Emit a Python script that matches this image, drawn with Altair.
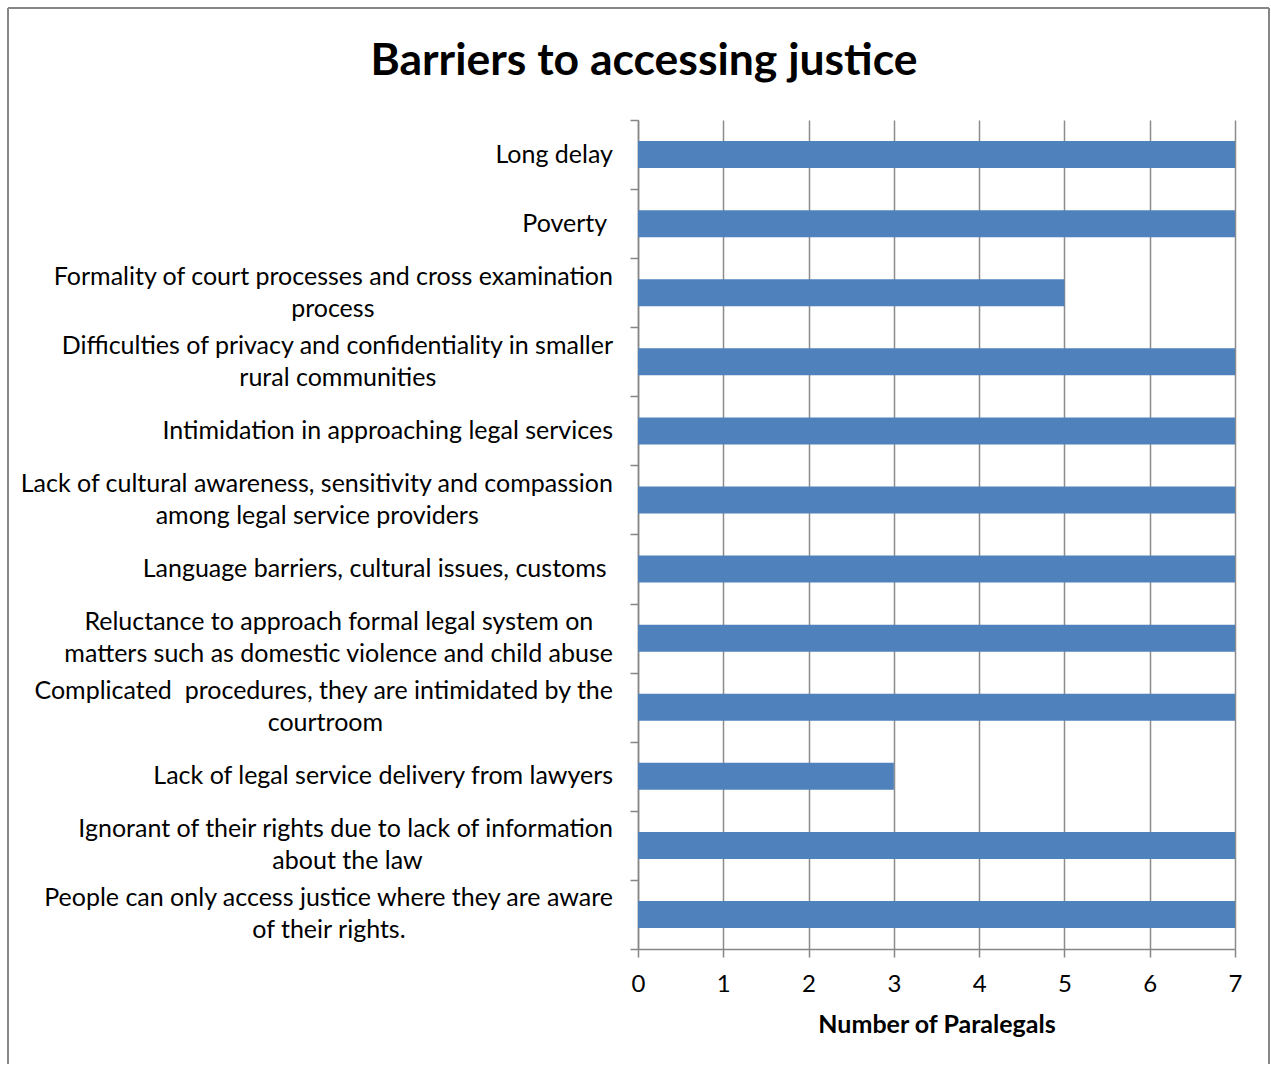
import altair as alt
import pandas as pd

title_text = "Barriers to accessing justice"
x_title = "Number of Paralegals"
categories = [
    "Long delay",
    "Poverty ",
    "Formality of court processes and cross examination\nprocess",
    "Difficulties of privacy and confidentiality in smaller\nrural communities",
    "Intimidation in approaching legal services",
    "Lack of cultural awareness, sensitivity and compassion\namong legal service providers",
    "Language barriers, cultural issues, customs ",
    "Reluctance to approach formal legal system on\nmatters such as domestic violence and child abuse",
    "Complicated  procedures, they are intimidated by the\ncourtroom",
    "Lack of legal service delivery from lawyers",
    "Ignorant of their rights due to lack of information\nabout the law",
    "People can only access justice where they are aware\nof their rights.",
]
values = [7, 7, 5, 7, 7, 7, 7, 7, 7, 3, 7, 7]
x_ticks = [0, 1, 2, 3, 4, 5, 6, 7]

# ---- layout / style ----
FONT = "Lato"
PLOT_W = 597
PLOT_H = 829
LABEL_SIZE = 25
LINE_GAP = 16
LABEL_RIGHT_PX = -25
BAR_COLOR = "#4F81BD"
GRID = "#8c8c8c"
PX_PER_UNIT = PLOT_W / 7.0

# approximate Lato advance widths (em) for centring wrapped labels
CHAR_W = dict(a=.50, b=.56, c=.46, d=.56, e=.52, f=.31, g=.50, h=.56, i=.24, j=.24,
              k=.50, l=.24, m=.84, n=.56, o=.56, p=.56, q=.56, r=.36, s=.42, t=.34,
              u=.56, v=.50, w=.77, x=.49, y=.50, z=.45)
CHAR_W.update({" ": .20, ",": .21, ".": .21, "C": .64, "D": .72, "F": .53, "I": .27,
               "L": .48, "P": .57, "R": .60})
WIDTH_FIX = 1.024


def est_width(s):
    s = " ".join(s.split())
    return sum(CHAR_W.get(c, 0.64 if c.isupper() else 0.55) for c in s) * LABEL_SIZE * WIDTH_FIX


def keep_spaces(s):
    # keep trailing / doubled spaces visible in SVG text
    out = s.replace("  ", " \u00a0")
    if out.endswith(" "):
        out = out[:-1] + "\u00a0\u200b"
    return out


bars = pd.DataFrame({"cat": categories, "value": values})

rows = []
for cat in categories:
    lines = cat.split("\n")
    if len(lines) == 1:
        rows.append({"cat": cat, "line": keep_spaces(lines[0]), "kind": "right", "dy": 0,
                     "xc": LABEL_RIGHT_PX / PX_PER_UNIT})
    else:
        widths = [est_width(l) for l in lines]
        wmax = max(widths)
        for i, l in enumerate(lines):
            dy = -LINE_GAP if i == 0 else LINE_GAP
            if widths[i] == wmax:
                rows.append({"cat": cat, "line": keep_spaces(l), "kind": "right", "dy": dy,
                             "xc": LABEL_RIGHT_PX / PX_PER_UNIT})
            else:
                rows.append({"cat": cat, "line": keep_spaces(l), "kind": "center", "dy": dy,
                             "xc": (LABEL_RIGHT_PX - wmax / 2.0) / PX_PER_UNIT})
lines_df = pd.DataFrame(rows)

xscale = alt.Scale(domain=[0, 7], nice=False, zero=True)
yscale = alt.Scale(paddingInner=0, paddingOuter=0)

bar_layer = alt.Chart(bars).mark_bar(size=27, color=BAR_COLOR).encode(
    x=alt.X("value:Q", scale=xscale, title=x_title,
            axis=alt.Axis(values=x_ticks, format="d")),
    y=alt.Y("cat:N", sort=categories, scale=yscale, title=None),
)

text_layers = []
for kind in ["right", "center"]:
    for dy in [-LINE_GAP, 0, LINE_GAP]:
        sub = lines_df[(lines_df.kind == kind) & (lines_df.dy == dy)]
        if len(sub) == 0:
            continue
        text_layers.append(
            alt.Chart(sub).mark_text(
                align=kind, baseline="middle", dy=dy, font=FONT,
                fontSize=LABEL_SIZE, color="black"
            ).encode(
                x=alt.X("xc:Q", scale=xscale, title=x_title),
                y=alt.Y("cat:N", sort=categories, scale=yscale, title=None),
                text="line:N",
            )
        )

one = pd.DataFrame({"k": [0]})
border = [
    alt.Chart(one).mark_rule(color="#878787", strokeWidth=2).encode(
        x=alt.value(-630), x2=alt.value(631), y=alt.value(-112)),
    alt.Chart(one).mark_rule(color="#878787", strokeWidth=2).encode(
        x=alt.value(-630), y=alt.value(-112), y2=alt.value(944)),
    alt.Chart(one).mark_rule(color="#878787", strokeWidth=2).encode(
        x=alt.value(631), y=alt.value(-112), y2=alt.value(944)),
]
title_layer = alt.Chart(one).mark_text(
    text=title_text, font=FONT, fontSize=44.5, fontWeight="bold",
    align="center", baseline="middle", color="black"
).encode(x=alt.value(6), y=alt.value(-58))

chart = alt.layer(*border, bar_layer, *text_layers, title_layer).properties(
    width=PLOT_W, height=PLOT_H,
    padding={"left": 7, "top": 7, "right": 0, "bottom": 0},
).configure_view(strokeWidth=0).configure_axisX(
    grid=True, gridColor=GRID, gridWidth=1.5, domainColor="#868686", domainWidth=1.5,
    tickColor="#868686", tickWidth=1.5, tickSize=8, labelFont=FONT, labelFontSize=24,
    labelColor="black", labelPadding=15, labelFlush=False, titleFont=FONT, titleFontSize=25,
    titleFontWeight="bold", titleColor="black", titlePadding=16,
).configure_axisY(
    grid=False, labels=False, tickBand="extent", domainColor="#868686", domainWidth=1.5,
    tickColor="#868686", tickWidth=1.5, tickSize=8,
)

chart.save("out.html", embed_options={"renderer": "svg", "actions": False})
